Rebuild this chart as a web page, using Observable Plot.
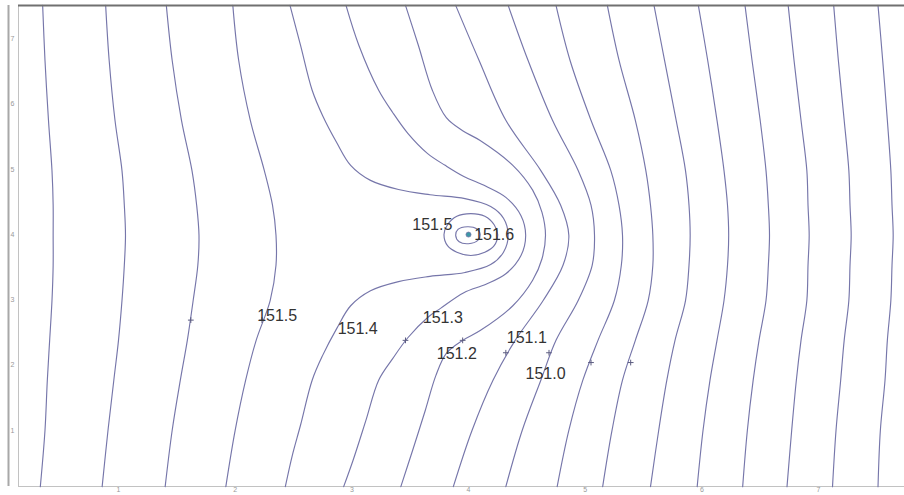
<!DOCTYPE html>
<html>
<head>
<meta charset="utf-8">
<script src="https://cdn.jsdelivr.net/npm/d3@7"></script>
<script src="https://cdn.jsdelivr.net/npm/@observablehq/plot@0.6"></script>
<style>
  html, body { margin: 0; padding: 0; background: #fff; }
</style>
</head>
<body>
<div id="chart"></div>
<script>
// ---- axes (units of the tick grid) ----
const xDomain = [0.143, 7.737];
const yDomain = [0.142, 7.508];
const xTicks = [1, 2, 3, 4, 5, 6, 7];
const yTicks = [1, 2, 3, 4, 5, 6, 7];

// ---- contour lines read at fixed rows (y values) ----
const rowY = [7.51, 6.67, 5.75, 4.98, 4.45, 3.99, 3.53, 2.99, 2.38, 1.77, 1.00, 0.14];
const x151_8 = [0.35, 0.37, 0.40, 0.43, 0.44, 0.44, 0.44, 0.43, 0.41, 0.39, 0.37, 0.33];
const x151_7 = [0.89, 0.92, 0.97, 1.03, 1.05, 1.06, 1.05, 1.03, 1.00, 0.96, 0.91, 0.86];
const x151_6 = [1.41, 1.46, 1.54, 1.63, 1.67, 1.69, 1.68, 1.64, 1.59, 1.53, 1.46, 1.40];
const x151_5 = [1.98, 2.03, 2.13, 2.25, 2.32, 2.35, 2.35, 2.30, 2.18, 2.09, 2.00, 1.92];
const x151_1 = [3.89, 4.09, 4.32, 4.62, 4.79, 4.86, 4.81, 4.64, 4.40, 4.21, 4.03, 3.87];
const x151_0 = [4.34, 4.51, 4.72, 4.94, 5.05, 5.08, 5.06, 4.94, 4.75, 4.62, 4.46, 4.32];
const x150_9 = [4.75, 4.87, 5.05, 5.22, 5.29, 5.32, 5.31, 5.25, 5.11, 4.98, 4.86, 4.76];
const x150_8 = [5.19, 5.29, 5.43, 5.52, 5.56, 5.58, 5.58, 5.54, 5.43, 5.32, 5.23, 5.15];
const x150_7 = [5.59, 5.68, 5.78, 5.86, 5.89, 5.90, 5.89, 5.86, 5.77, 5.70, 5.63, 5.56];
const x150_6 = [5.97, 6.05, 6.13, 6.19, 6.22, 6.23, 6.22, 6.19, 6.13, 6.07, 6.01, 5.96];
const x150_5 = [6.37, 6.43, 6.50, 6.55, 6.57, 6.58, 6.57, 6.55, 6.49, 6.44, 6.39, 6.35];
const x150_4 = [6.74, 6.79, 6.85, 6.90, 6.91, 6.92, 6.91, 6.90, 6.85, 6.81, 6.77, 6.73];
const x150_3 = [7.13, 7.17, 7.22, 7.26, 7.27, 7.28, 7.27, 7.26, 7.22, 7.19, 7.15, 7.12];
const x150_2 = [7.51, 7.55, 7.59, 7.62, 7.63, 7.64, 7.63, 7.62, 7.59, 7.57, 7.53, 7.51];

// ---- contour lines that bend round the mound (x, y) ----
const line151_4 = [[2.47,7.51],[2.56,6.90],[2.66,6.21],[2.75,5.82],[2.87,5.41],[2.99,5.06],[3.16,4.83],[3.40,4.69],[3.67,4.61],[3.97,4.55],[4.19,4.43],[4.30,4.25],[4.34,3.99],[4.30,3.73],[4.19,3.54],[3.97,3.42],[3.67,3.36],[3.40,3.28],[3.16,3.14],[2.99,2.91],[2.87,2.56],[2.75,2.15],[2.66,1.77],[2.56,1.08],[2.49,0.62],[2.43,0.14]];
const line151_3 = [[2.95,7.51],[3.06,6.90],[3.23,6.21],[3.35,5.87],[3.48,5.55],[3.65,5.24],[3.80,5.06],[3.96,4.89],[4.15,4.74],[4.32,4.57],[4.45,4.29],[4.49,3.99],[4.45,3.68],[4.32,3.40],[4.15,3.24],[3.96,3.11],[3.76,2.87],[3.65,2.73],[3.48,2.42],[3.35,2.10],[3.23,1.77],[3.12,1.15],[3.01,0.54],[2.93,0.14]];
const line151_2 = [[3.46,7.51],[3.57,6.90],[3.69,6.21],[3.81,5.79],[3.95,5.59],[4.10,5.44],[4.38,5.06],[4.55,4.68],[4.63,4.34],[4.66,3.99],[4.63,3.63],[4.55,3.30],[4.38,2.91],[4.10,2.53],[3.95,2.38],[3.81,2.18],[3.72,1.84],[3.63,1.31],[3.52,0.69],[3.42,0.14]];

// ---- closed contours round the well ----
const loop151_5 = [[3.79,4.00],[3.82,4.15],[3.90,4.28],[4.02,4.32],[4.14,4.28],[4.22,4.15],[4.25,4.00],[4.22,3.83],[4.14,3.73],[4.02,3.68],[3.90,3.73],[3.82,3.83]];
const loop151_6 = [[3.89,3.99],[3.91,4.08],[3.99,4.12],[4.07,4.09],[4.10,4.00],[4.08,3.91],[4.00,3.86],[3.92,3.89]];
const wellXY = [[4.00, 4.00]];

// ---- contour labels ----
const labelText = ["151.5", "151.4", "151.3", "151.2", "151.1", "151.0", "151.5", "151.6"];
const labelX    = [2.36, 3.05, 3.78, 3.90, 4.50, 4.66, 3.69, 4.22];
const labelY    = [2.75, 2.56, 2.73, 2.18, 2.42, 1.87, 4.15, 3.99];

// ---- label markers on the lines ----
const markX = [1.62, 2.23, 3.46, 3.95, 4.32, 4.69, 5.05, 5.39];
const markY = [2.69, 2.69, 2.38, 2.38, 2.19, 2.19, 2.04, 2.04];

// ---- build tables ----
const rowLines = [
  ["151.8", x151_8], ["151.7", x151_7], ["151.6", x151_6], ["151.5", x151_5],
  ["151.1", x151_1], ["151.0", x151_0], ["150.9", x150_9], ["150.8", x150_8],
  ["150.7", x150_7], ["150.6", x150_6], ["150.5", x150_5], ["150.4", x150_4],
  ["150.3", x150_3], ["150.2", x150_2]
];
const pointLines = [["151.4", line151_4], ["151.3", line151_3], ["151.2", line151_2]];
const openPts = [];
for (const [id, xs] of rowLines) xs.forEach((x, i) => openPts.push({id, x, y: rowY[i]}));
for (const [id, pts] of pointLines) pts.forEach(([x, y]) => openPts.push({id, x, y}));
const loopPts = [];
for (const [id, pts] of [["151.5", loop151_5], ["151.6", loop151_6]]) pts.forEach(([x, y]) => loopPts.push({id, x, y}));
const labels = labelText.map((t, i) => ({t, x: labelX[i], y: labelY[i]}));
const marks = markX.map((x, i) => ({x, y: markY[i]}));
const well = wellXY.map(([x, y]) => ({x, y}));

const lineColor = "#7676aa";

const chart = Plot.plot({
  width: 904,
  height: 495,
  marginTop: 5,
  marginBottom: 9,
  marginLeft: 18,
  marginRight: 0,
  x: {domain: xDomain, axis: null},
  y: {domain: yDomain, axis: null},
  style: {background: "#fff", fontFamily: "Liberation Sans, Arial, sans-serif", overflow: "hidden"},
  marks: [
    Plot.ruleX([xDomain[0]], {dx: -10, stroke: "#a8a8a8", strokeWidth: 2}),
    Plot.ruleX([xDomain[0]], {stroke: "#c2c2c2", strokeWidth: 1}),
    Plot.ruleY([yDomain[0]], {stroke: "#c2c2c2", strokeWidth: 1}),
    Plot.line(openPts, {x: "x", y: "y", z: "id", curve: "catmull-rom", stroke: lineColor, strokeWidth: 1.15}),
    Plot.line(loopPts, {x: "x", y: "y", z: "id", curve: "catmull-rom-closed", stroke: lineColor, strokeWidth: 1.15}),
    Plot.ruleY([yDomain[1]], {stroke: "#707070", strokeWidth: 2}),
    Plot.axisX({ticks: xTicks, tickSize: 0, tickPadding: 1, fontSize: 7, fill: "#999", label: null, tickFormat: d => String(d)}),
    Plot.axisY({ticks: yTicks, tickSize: 0, tickPadding: 4, fontSize: 7, fill: "#999", label: null, tickFormat: d => String(d)}),
    Plot.dot(marks, {x: "x", y: "y", symbol: "plus", r: 2, stroke: "#5c5c80", strokeWidth: 1}),
    Plot.dot(well, {x: "x", y: "y", r: 2.5, fill: "#3d97a6", stroke: "#7676aa", strokeWidth: 0.8}),
    Plot.text(labels, {x: "x", y: "y", text: "t", fontSize: 16, fill: "#333", textAnchor: "middle"})
  ]
});
document.getElementById("chart").appendChild(chart);
</script>
</body>
</html>
